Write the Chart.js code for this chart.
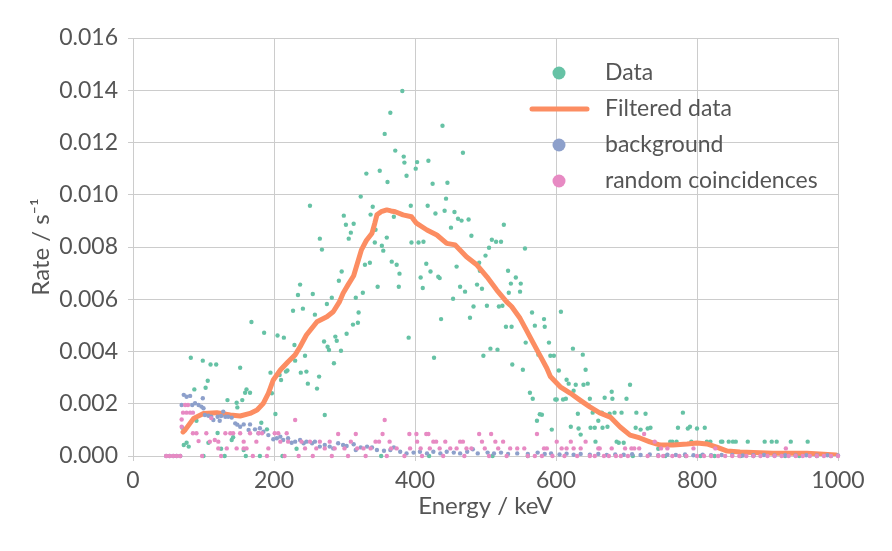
<!DOCTYPE html>
<html>
<head>
<meta charset="utf-8">
<title>Espectro de energía</title>
<script src="https://cdn.jsdelivr.net/npm/chart.js@4.4.1/dist/chart.umd.min.js"></script>
<style>
  html, body { margin: 0; padding: 0; background: #ffffff; }
  #grafico { display: block; }
</style>
</head>
<body>
<canvas id="grafico" width="892" height="551"></canvas>
<script>
// Datos: energía en keV, tasa en s^-1
const dataEnergy = [
  70, 72, 76, 79, 82, 87, 90, 99, 100, 103,
  106, 107, 110, 118, 120, 125, 130, 134, 140, 142,
  147, 148, 152, 155, 157, 159, 160, 161, 166, 168,
  180, 182, 186, 190, 195, 197, 202, 205, 208, 210,
  212, 214, 217, 219, 227, 229, 230, 232, 234, 237,
  238, 241, 244, 246, 248, 251, 255, 258, 261, 264,
  265, 268, 271, 272, 275, 276, 278, 282, 285, 287,
  289, 292, 295, 296, 299, 302, 303, 306, 309, 312,
  313, 316, 319, 320, 323, 326, 329, 331, 336, 337,
  340, 343, 344, 347, 350, 352, 353, 355, 357, 360,
  361, 365, 367, 370, 372, 374, 377, 378, 382, 384,
  385, 388, 391, 394, 395, 401, 403, 405, 408, 411,
  412, 416, 418, 419, 420, 422, 425, 427, 429, 433,
  435, 437, 439, 442, 444, 446, 451, 454, 456, 459,
  461, 464, 466, 468, 471, 476, 478, 480, 483, 488,
  491, 492, 495, 497, 500, 502, 505, 507, 509, 510,
  515, 517, 519, 522, 524, 526, 529, 532, 533, 536,
  537, 538, 543, 549, 550, 553, 556, 557, 560, 563,
  566, 567, 570, 573, 575, 577, 580, 583, 584, 590,
  592, 594, 597, 599, 601, 604, 607, 610, 614, 615,
  618, 621, 624, 625, 628, 631, 632, 635, 638, 639,
  642, 645, 648, 649, 652, 655, 656, 660, 665, 666,
  669, 673, 676, 679, 680, 683, 686, 689, 693, 696,
  700, 705, 709, 713, 714, 720, 727, 730, 733, 734,
  745, 755, 762, 765, 771, 773, 780, 784, 787, 790,
  792, 800, 805, 811, 814, 819, 825, 834, 836, 845,
  851, 855, 862, 872, 880, 896, 906, 913, 925, 933,
  945, 957, 970, 990,
];
const dataRate = [
  0.00108, 0.00042, 0.00051, 0.00036, 0.00376, 0.00255, 0.00135, 0.00365, 0, 0.00261,
  0.00288, 0.00051, 0.0035, 0.0035, 0.00088, 0.00028, 0, 0.00214, 0.00061, 0.00072,
  0.00204, 0.00186, 0.00338, 0.00214, 0.00023, 0.00242, 0, 0.00255, 0.00242, 0.00513,
  0, 0.00127, 0.00472, 0.00102, 0.00319, 0.0024, 0.00161, 0.00461, 0.0031, 0.00291,
  0, 0.00453, 0.00323, 0.00327, 0.00556, 0.00425, 0.00365, 0.00028, 0.00616, 0.00656,
  0.00319, 0.00564, 0.00384, 0.00323, 0.00277, 0.00958, 0.0062, 0.00541, 0.00258, 0.00304,
  0.00832, 0.0079, 0.00438, 0.00157, 0.00582, 0.00418, 0.00406, 0.00606, 0.00355, 0.00457,
  0.00441, 0.00671, 0.00403, 0.00706, 0.0092, 0.00885, 0.00468, 0.00832, 0.00855, 0.00503,
  0.00889, 0.00606, 0.0051, 0.00549, 0.00993, 0.00625, 0.00732, 0.01081, 0.0074, 0.00924,
  0.00954, 0.00817, 0.00866, 0.00648, 0.01092, 0, 0.00805, 0.00786, 0.01233, 0.00836,
  0.01049, 0.01314, 0.00744, 0.00916, 0.01169, 0.00732, 0.00648, 0.00698, 0.01397, 0.01146,
  0.01123, 0.01073, 0.00453, 0.00958, 0.00817, 0.011, 0.01125, 0.00817, 0.00683, 0.00643,
  0.0082, 0.00736, 0.00958, 0.0113, 0, 0.00706, 0.01042, 0.00376, 0.00928, 0.00686,
  0.00681, 0.00524, 0.01264, 0.00939, 0.00985, 0.01046, 0.00874, 0.00602, 0.00934, 0.00725,
  0.00908, 0.00648, 0.00901, 0.01161, 0.00629, 0.00905, 0.00529, 0.00843, 0.00572, 0.00656,
  0.0074, 0.00709, 0.0064, 0.00384, 0.00767, 0.00575, 0.00797, 0.00411, 0.00828, 0,
  0.0082, 0.00407, 0.00572, 0.0082, 0.00575, 0.00885, 0.00495, 0.00709, 0.00625, 0.0066,
  0.00495, 0.0035, 0.00683, 0.00629, 0.0066, 0.0033, 0.00794, 0.00434, 0, 0.00242,
  0.00549, 0.00219, 0.00499, 0.00135, 0.00388, 0.0016, 0.00158, 0.00524, 0.00495, 0.00434,
  0.00384, 0.00101, 0.00384, 0.00216, 0.00216, 0.00327, 0.00552, 0.00216, 0.00219, 0.00292,
  0.00277, 0.00112, 0.00411, 0.0025, 0.00273, 0.00162, 0.00105, 0.00082, 0.00388, 0.00273,
  0.0033, 0.00277, 0.00219, 0.00108, 0.00166, 0.00108, 0.00055, 0.00135, 0.00166, 0.00108,
  0.00223, 0.00112, 0.00162, 0.00246, 0.00219, 0.00166, 0.00055, 0.00051, 0.00166, 0.00051,
  0.00219, 0.00273, 0, 0.00108, 0.00166, 0.00101, 0.00162, 0.00105, 0.00055, 0.00108,
  0.00028, 0, 0.00055, 0.00055, 0.00055, 0.00108, 0.00166, 0, 0.00105, 0.00112,
  0.00055, 0.00105, 0, 0.00108, 0.00055, 0.00055, 0, 0.00055, 0.00055, 0.00055,
  0.00055, 0.00055, 0, 0.00055, 0, 0.00055, 0.00055, 0.00055, 0, 0.00055,
  0, 0.00055, 0, 0,
];

const filteredEnergy = [
  71, 74, 86, 100, 119, 138, 152, 166, 176, 185,
  192, 199, 209, 220, 230, 237, 246, 261, 275, 284,
  293, 298, 305, 313, 324, 331, 339, 343, 346, 352,
  360, 366, 372, 383, 395, 402, 417, 431, 445, 457,
  473, 488, 502, 516, 530, 537, 549, 558, 568, 577,
  587, 592, 606, 620, 634, 648, 662, 677, 691, 705,
  719, 733, 748, 766, 786, 800, 814, 828, 843, 861,
  908, 956, 974, 997,
];
const filteredRate = [
  0.00092, 0.001, 0.00144, 0.00163, 0.00166, 0.00157, 0.00153, 0.00163, 0.00176, 0.00202,
  0.0024, 0.00291, 0.00329, 0.00361, 0.00387, 0.00418, 0.00463, 0.00514, 0.00533, 0.00552,
  0.00591, 0.00623, 0.00655, 0.0069, 0.00789, 0.00825, 0.00853, 0.00891, 0.00923, 0.00935,
  0.00942, 0.00938, 0.00935, 0.00923, 0.00916, 0.00891, 0.00865, 0.00846, 0.00814, 0.00808,
  0.00763, 0.00731, 0.00686, 0.00635, 0.0059, 0.00572, 0.00527, 0.00482, 0.00431, 0.00386,
  0.00336, 0.00304, 0.00265, 0.00241, 0.00214, 0.00188, 0.00165, 0.00149, 0.00111, 0.0008,
  0.00069, 0.00054, 0.00042, 0.00042, 0.00046, 0.0005, 0.00046, 0.00034, 0.00019, 0.00015,
  0.00011, 0.00011, 0.00008, 0.00004,
];

const backgroundEnergy = [
  47, 52, 57, 62, 67, 69, 72, 76, 81, 84,
  88, 93, 97, 99, 100, 102, 107, 111, 114, 120,
  123, 125, 128, 131, 135, 140, 145, 148, 152, 157,
  164, 166, 173, 178, 180, 185, 192, 199, 204, 209,
  213, 220, 225, 230, 237, 242, 246, 254, 258, 265,
  272, 279, 284, 291, 298, 303, 313, 316, 323, 332,
  339, 346, 356, 365, 370, 379, 388, 398, 407, 417,
  426, 436, 445, 455, 464, 474, 482, 489, 503, 512,
  522, 532, 545, 560, 574, 584, 593, 605, 615, 625,
  635, 648, 660, 672, 684, 696, 708, 720, 733, 745,
  758, 770, 783, 795, 808, 820, 835, 850, 865, 880,
  895, 910, 925, 940, 955, 970, 985, 1000,
];
const backgroundRate = [
  0, 0, 0, 0, 0, 0.00195, 0.00234, 0.00227, 0.0023, 0.00195,
  0.00202, 0.00195, 0.00189, 0.00221, 0.00183, 0.00157, 0.00154, 0.0015, 0.00138, 0.0015,
  0.00135, 0.00153, 0.0017, 0.0015, 0.0015, 0.00147, 0.00125, 0.0012, 0.00112, 0.00121,
  0.001, 0.00121, 0.00102, 0.00087, 0.00106, 0.00093, 0.0008, 0.00064, 0.00068, 0.00074,
  0.00061, 0.00068, 0.00051, 0.00055, 0.00061, 0.00049, 0.00055, 0.00049, 0.00055, 0.00036,
  0.00042, 0.00036, 0.00029, 0.00049, 0.00042, 0.00038, 0.00045, 0.00023, 0.00033, 0.00036,
  0.00033, 0.00023, 0.0002, 0.00023, 0.00033, 0.00016, 0.0001, 0.00013, 0.00016, 0.0001,
  0.00016, 0.0001, 0.00016, 0.00013, 0.0001, 0.00016, 0.00026, 0.0001, 0.00013, 0.0001,
  0.00013, 0.00008, 0.0001, 0.00008, 0.00013, 0.00008, 0.0001, 0.00006, 0.00009, 0.00005,
  0.00008, 0.00005, 0.00008, 0.00004, 0.00006, 0.00005, 0.00007, 0.00004, 0.00006, 0.00003,
  0.00005, 0.00004, 0.00006, 0.00003, 0.00005, 0.00003, 0.00004, 0.00004, 0.00002, 0.00003,
  0.00004, 0.00002, 0.00003, 0.00002, 0.00003, 0.00002, 0.00003, 0.00002,
];

const randomEnergy = [
  47, 52, 57, 62, 67, 69, 69, 71, 74, 76,
  78, 81, 85, 85, 90, 93, 98, 104, 109, 111,
  116, 121, 121, 125, 131, 133, 138, 142, 147, 152,
  157, 157, 161, 166, 170, 175, 178, 183, 190, 192,
  201, 206, 209, 215, 218, 220, 230, 235, 239, 244,
  251, 255, 260, 265, 272, 279, 282, 286, 291, 300,
  305, 309, 316, 318, 327, 330, 337, 344, 349, 354,
  357, 360, 364, 366, 374, 385, 392, 393, 402, 403,
  408, 410, 416, 419, 421, 426, 430, 435, 440, 443,
  450, 459, 464, 468, 470, 473, 480, 491, 495, 499,
  505, 508, 514, 518, 525, 530, 535, 545, 555, 560,
  570, 573, 580, 583, 587, 595, 601, 608, 612, 615,
  621, 625, 630, 635, 642, 648, 655, 660, 662, 668,
  675, 679, 685, 692, 698, 702, 707, 711, 718, 725,
  730, 740, 745, 749, 752, 758, 765, 775, 785, 795,
  800, 810, 820, 826, 830, 840, 850, 860, 870, 880,
  890, 900, 910, 920, 926, 930, 940, 950, 960, 970,
  980, 990, 1000,
];
const randomRate = [
  0, 0, 0, 0, 0, 0.0014, 0.00112, 0.00166, 0.00195, 0.00166,
  0.00195, 0.00166, 0.00166, 0.00087, 0.00087, 0.00057, 0, 0.00087, 0.00055, 0.00145,
  0.00061, 0.00055, 0.00029, 0, 0.00087, 0.00029, 0.00087, 0.00087, 0.00029, 0.00087,
  0.00055, 0.00029, 0.00029, 0.00087, 0, 0.00055, 0.00087, 0.00087, 0, 0.00029,
  0.00087, 0.00087, 0.00055, 0, 0.00087, 0.00055, 0.00138, 0, 0.00055, 0.00029,
  0.00055, 0, 0.00029, 0.00055, 0.00029, 0.00055, 0, 0.00029, 0.00084, 0.00029,
  0, 0.00055, 0.00084, 0.00029, 0.00029, 0, 0.00029, 0.00055, 0.00055, 0.00084,
  0.00138, 0, 0.00055, 0.00029, 0.00029, 0, 0.00084, 0.00029, 0.00084, 0.00055,
  0.00029, 0, 0.00084, 0.00084, 0.00029, 0.00055, 0.00055, 0.00029, 0, 0.00055,
  0.00029, 0.00029, 0.00055, 0.00055, 0, 0.00029, 0.00029, 0.00084, 0.00055, 0.00029,
  0, 0.00084, 0.00055, 0.00029, 0.00055, 0, 0.00029, 0.00029, 0.00029, 0,
  0, 0.00084, 0, 0.00029, 0.00029, 0, 0.00055, 0.00029, 0, 0.00029,
  0.00055, 0.00029, 0, 0.00029, 0.00055, 0, 0, 0.00029, 0.00029, 0,
  0, 0.00029, 0, 0, 0.00029, 0, 0.00029, 0.00029, 0.00029, 0.00084,
  0, 0.00055, 0, 0.00029, 0, 0.00029, 0, 0, 0, 0.00029,
  0, 0, 0, 0.00029, 0, 0, 0, 0, 0, 0,
  0, 0, 0, 0, 0.00029, 0, 0, 0, 0, 0,
  0, 0, 0,
];

const energyTicks = [0, 200, 400, 600, 800, 1000];
const rateTicks = [0, 0.002, 0.004, 0.006, 0.008, 0.01, 0.012, 0.014, 0.016];

const colores = {
  data: "#66c2a5",
  filtered: "#fc8d62",
  background: "#8da0cb",
  random: "#e78ac3",
  texto: "#555555",
  rejilla: "#cccccc",
};
const fuente = "Lato";

function aPuntos(energias, tasas) {
  return energias.map((e, i) => ({ x: e, y: tasas[i] }));
}

// leyenda dibujada dentro del área, como en la figura original
const pluginLeyenda = {
  id: "pluginLeyenda",
  afterDraw(chart) {
    const { ctx } = chart;
    const filas = [73, 109, 145, 181];
    const xMarca = 559;
    const xTexto = 605;

    ctx.save();
    ctx.font = `23px ${fuente}`;
    ctx.textBaseline = "middle";
    ctx.textAlign = "left";

    chart.data.datasets.forEach((ds, i) => {
      const y = filas[i];
      if (ds.showLine) {
        ctx.strokeStyle = ds.borderColor;
        ctx.lineWidth = 5;
        ctx.lineCap = "round";
        ctx.beginPath();
        ctx.moveTo(xMarca - 27, y);
        ctx.lineTo(xMarca + 28, y);
        ctx.stroke();
      } else {
        ctx.fillStyle = ds.backgroundColor;
        ctx.beginPath();
        ctx.arc(xMarca, y, 6.5, 0, Math.PI * 2);
        ctx.fill();
      }
      ctx.fillStyle = colores.texto;
      ctx.fillText(ds.label, xTexto, y);
    });

    ctx.restore();
  },
};

function crearDispersion(etiqueta, color, puntos, orden) {
  return {
    label: etiqueta,
    data: puntos,
    showLine: false,
    backgroundColor: color,
    borderColor: color,
    borderWidth: 0,
    pointRadius: 2.2,
    pointHoverRadius: 2.2,
    clip: 4,
    order: orden,
  };
}

new Chart(document.getElementById("grafico").getContext("2d"), {
  type: "scatter",
  data: {
    datasets: [
      crearDispersion("Data", colores.data, aPuntos(dataEnergy, dataRate), 4),
      {
        label: "Filtered data",
        data: aPuntos(filteredEnergy, filteredRate),
        showLine: true,
        borderColor: colores.filtered,
        backgroundColor: colores.filtered,
        borderWidth: 5,
        pointRadius: 0,
        tension: 0,
        borderCapStyle: "round",
        borderJoinStyle: "round",
        order: 3,
      },
      crearDispersion("background", colores.background, aPuntos(backgroundEnergy, backgroundRate), 2),
      crearDispersion("random coincidences", colores.random, aPuntos(randomEnergy, randomRate), 1),
    ],
  },
  options: {
    responsive: false,
    animation: false,
    devicePixelRatio: 1,
    layout: { padding: { left: 0, right: 54, top: 38, bottom: 0 } },
    plugins: {
      legend: { display: false },
      tooltip: { enabled: false },
    },
    scales: {
      x: {
        type: "linear",
        min: 0,
        max: 1000,
        afterFit: (scale) => { scale.height = 95; },
        afterBuildTicks: (scale) => { scale.ticks = energyTicks.map((v) => ({ value: v })); },
        ticks: {
          color: colores.texto,
          font: { family: fuente, size: 23 },
          padding: 6,
          maxRotation: 0,
          callback: (v) => String(v),
        },
        grid: { color: colores.rejilla, tickLength: 5, tickColor: colores.rejilla },
        border: { color: colores.rejilla },
        title: {
          display: true,
          text: "Energy / keV",
          color: colores.texto,
          font: { family: fuente, size: 24 },
          padding: { bottom: 30 },
        },
      },
      y: {
        type: "linear",
        min: 0,
        max: 0.016,
        afterFit: (scale) => { scale.width = 133; },
        afterBuildTicks: (scale) => { scale.ticks = rateTicks.map((v) => ({ value: v })); },
        ticks: {
          color: colores.texto,
          font: { family: fuente, size: 23 },
          padding: 10,
          callback: (v) => Number(v).toFixed(3),
        },
        grid: { color: colores.rejilla, tickLength: 5, tickColor: colores.rejilla },
        border: { color: colores.rejilla },
        title: {
          display: true,
          text: "Rate / s⁻¹",
          color: colores.texto,
          font: { family: fuente, size: 24 },
          padding: { top: 27 },
        },
      },
    },
  },
  plugins: [pluginLeyenda],
});
</script>
</body>
</html>
